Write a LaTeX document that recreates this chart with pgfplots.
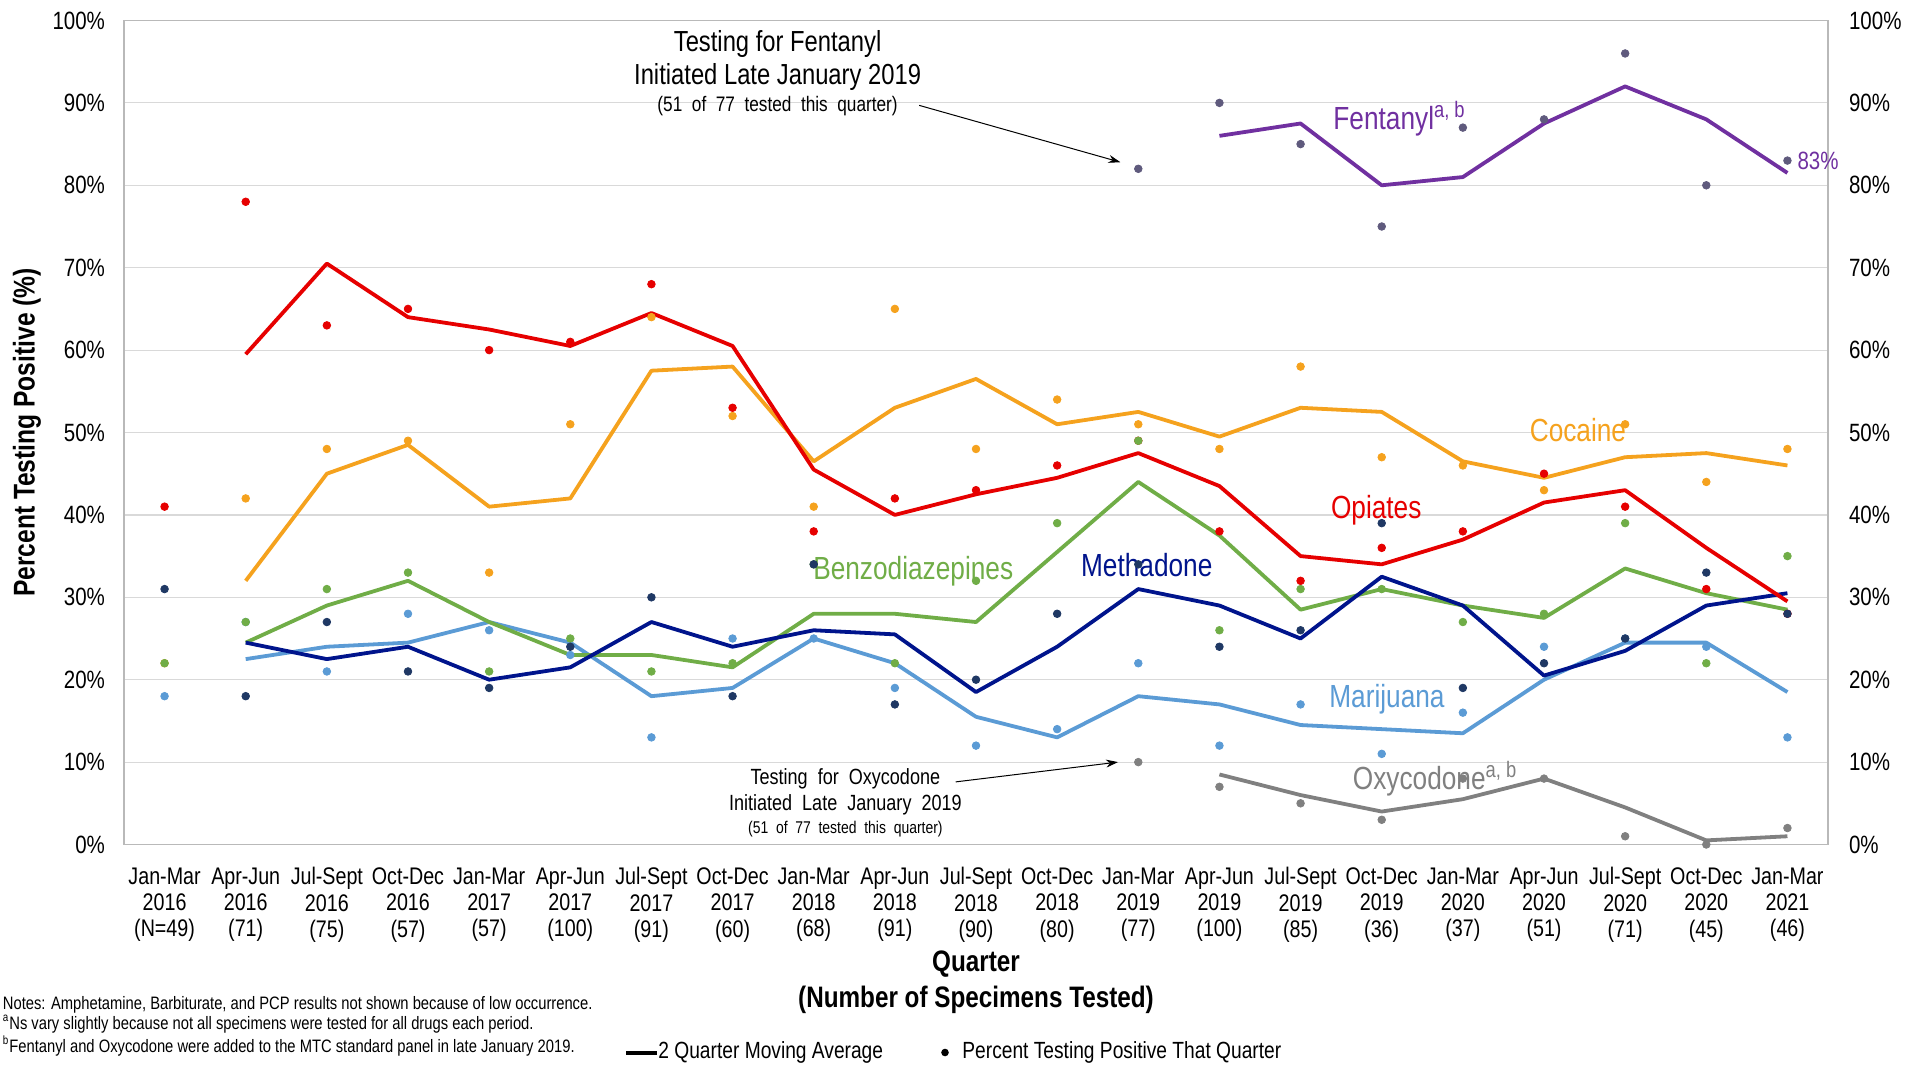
\documentclass[border=0pt]{standalone}
\usepackage{pgfplots}
\pgfplotsset{compat=1.18}
\usepackage{pgfplotstable}
\usepackage{fontspec}
\setmainfont{Liberation Sans}[FakeStretch=0.82]
\usetikzlibrary{arrows.meta}

\definecolor{opired}{RGB}{230,0,0}
\definecolor{cocorange}{RGB}{245,162,30}
\definecolor{bengreen}{RGB}{112,173,71}
\definecolor{metnavy}{RGB}{0,20,140}
\definecolor{metdot}{RGB}{31,56,100}
\definecolor{marblue}{RGB}{91,155,213}
\definecolor{fenpurple}{RGB}{112,48,160}
\definecolor{fendot}{RGB}{95,90,125}
\definecolor{oxygray}{RGB}{128,128,128}

\pgfplotstableread{
q opi coc ben met mar fen oxy
0 41 22 22 31 18 nan nan
1 78 42 27 18 27 nan nan
2 63 48 31 27 21 nan nan
3 65 49 33 21 28 nan nan
4 60 33 21 19 26 nan nan
5 61 51 25 24 23 nan nan
6 68 64 21 30 13 nan nan
7 53 52 22 18 25 nan nan
8 38 41 34 34 25 nan nan
9 42 65 22 17 19 nan nan
10 43 48 32 20 12 nan nan
11 46 54 39 28 14 nan nan
12 49 51 49 34 22 82 10
13 38 48 26 24 12 90 7
14 32 58 31 26 17 85 5
15 36 47 31 39 11 75 3
16 38 46 27 19 16 87 8
17 45 43 28 22 24 88 8
18 41 51 39 25 25 96 1
19 31 44 22 33 24 80 0
20 28 48 35 28 13 83 2
}\tdots

\pgfplotstableread{
q opi coc ben met mar fen oxy
1 59.5 32 24.5 24.5 22.5 nan nan
2 70.5 45 29 22.5 24 nan nan
3 64 48.5 32 24 24.5 nan nan
4 62.5 41 27 20 27 nan nan
5 60.5 42 23 21.5 24.5 nan nan
6 64.5 57.5 23 27 18 nan nan
7 60.5 58 21.5 24 19 nan nan
8 45.5 46.5 28 26 25 nan nan
9 40 53 28 25.5 22 nan nan
10 42.5 56.5 27 18.5 15.5 nan nan
11 44.5 51 35.5 24 13 nan nan
12 47.5 52.5 44 31 18 nan nan
13 43.5 49.5 37.5 29 17 86 8.5
14 35 53 28.5 25 14.5 87.5 6
15 34 52.5 31 32.5 14 80 4
16 37 46.5 29 29 13.5 81 5.5
17 41.5 44.5 27.5 20.5 20 87.5 8
18 43 47 33.5 23.5 24.5 92 4.5
19 36 47.5 30.5 29 24.5 88 0.5
20 29.5 46 28.5 30.5 18.5 81.5 1
}\tma

\begin{document}
\begin{tikzpicture}
\path[use as bounding box] (-62pt,-111pt) rectangle (900.5pt,422.25pt);
\begin{axis}[
  at={(0,0)}, anchor=south west, scale only axis,
  width=852pt, height=412pt,
  xmin=-0.5, xmax=20.5, ymin=0, ymax=100,
  unbounded coords=jump,
  axis line style={draw=gray!55, line width=0.6pt},
  ymajorgrids, grid style={draw=gray!30, line width=0.6pt},
  major tick length=0pt,
  ytick={0,10,...,100},
  yticklabel={\pgfmathprintnumber[assume math mode=true]{\tick}\%},
  yticklabel style={font=\fontsize{12.5}{14}\selectfont, xshift=-6pt},
  xtick={0,...,20},
  xticklabels={{Jan-Mar\\2016\\(N=49)},{Apr-Jun\\2016\\(71)},{Jul-Sept\\2016\\(75)},{Oct-Dec\\2016\\(57)},
    {Jan-Mar\\2017\\(57)},{Apr-Jun\\2017\\(100)},{Jul-Sept\\2017\\(91)},{Oct-Dec\\2017\\(60)},
    {Jan-Mar\\2018\\(68)},{Apr-Jun\\2018\\(91)},{Jul-Sept\\2018\\(90)},{Oct-Dec\\2018\\(80)},
    {Jan-Mar\\2019\\(77)},{Apr-Jun\\2019\\(100)},{Jul-Sept\\2019\\(85)},{Oct-Dec\\2019\\(36)},
    {Jan-Mar\\2020\\(37)},{Apr-Jun\\2020\\(51)},{Jul-Sept\\2020\\(71)},{Oct-Dec\\2020\\(45)},
    {Jan-Mar\\2021\\(46)}},
  xticklabel style={align=center, font=\fontsize{12}{13.2}\selectfont, yshift=-8pt},
  clip=false,
]
% moving average lines
\addplot[draw=cocorange, line width=1.9pt, line join=round, no marks] table[x=q,y=coc]{\tma};
\addplot[draw=marblue, line width=1.9pt, line join=round, no marks] table[x=q,y=mar]{\tma};
\addplot[draw=bengreen, line width=1.9pt, line join=round, no marks] table[x=q,y=ben]{\tma};
\addplot[draw=metnavy, line width=1.9pt, line join=round, no marks] table[x=q,y=met]{\tma};
\addplot[draw=opired, line width=1.9pt, line join=round, no marks] table[x=q,y=opi]{\tma};
\addplot[draw=fenpurple, line width=1.9pt, line join=round, no marks] table[x=q,y=fen]{\tma};
\addplot[draw=oxygray, line width=1.9pt, line join=round, no marks] table[x=q,y=oxy]{\tma};
% quarterly dots
\addplot[only marks, mark=*, color=marblue, mark size=1.9pt] table[x=q,y=mar]{\tdots};
\addplot[only marks, mark=*, color=cocorange, mark size=1.9pt] table[x=q,y=coc]{\tdots};
\addplot[only marks, mark=*, color=opired, mark size=1.9pt] table[x=q,y=opi]{\tdots};
\addplot[only marks, mark=*, color=bengreen, mark size=1.9pt] table[x=q,y=ben]{\tdots};
\addplot[only marks, mark=*, color=metdot, mark size=1.9pt] table[x=q,y=met]{\tdots};
\addplot[only marks, mark=*, color=fendot, mark size=1.9pt] table[x=q,y=fen]{\tdots};
\addplot[only marks, mark=*, color=oxygray, mark size=1.9pt] table[x=q,y=oxy]{\tdots};

% series labels
\node[anchor=west, inner sep=0pt, text=fenpurple, font=\fontsize{16}{18}\selectfont] at (axis cs:14.40,88.1) {Fentanyl\textsuperscript{a, b}};
\node[anchor=west, inner sep=0pt, text=fenpurple, font=\fontsize{12.5}{14}\selectfont] at (axis cs:20.12,83.0) {83\%};
\node[anchor=west, inner sep=0pt, text=cocorange, font=\fontsize{16}{18}\selectfont] at (axis cs:16.82,50.3) {Cocaine};
\node[anchor=west, inner sep=0pt, text=opired, font=\fontsize{16}{18}\selectfont] at (axis cs:14.37,40.6) {Opiates};
\node[anchor=west, inner sep=0pt, text=bengreen, font=\fontsize{16}{18}\selectfont] at (axis cs:7.99,33.2) {Benzodiazepines};
\node[anchor=west, inner sep=0pt, text=metnavy, font=\fontsize{16}{18}\selectfont] at (axis cs:11.29,33.9) {Methadone};
\node[anchor=west, inner sep=0pt, text=marblue, font=\fontsize{16}{18}\selectfont] at (axis cs:14.35,17.6) {Marijuana};
\node[anchor=west, inner sep=0pt, text=oxygray, font=\fontsize{16}{18}\selectfont] at (axis cs:14.64,8.0) {Oxycodone\textsuperscript{a, b}};

% annotations
\node[inner sep=0pt, font=\fontsize{14.5}{16}\selectfont] at (axis cs:7.555,97.1) {Testing for Fentanyl};
\node[inner sep=0pt, font=\fontsize{14.5}{16}\selectfont] at (axis cs:7.555,93.1) {Initiated Late January 2019};
\node[inner sep=0pt, font=\fontsize{10.5}{12}\selectfont] at (axis cs:7.555,89.6) {(51\ \ of\ \ 77\ \ tested\ \ this\ \ quarter)};
\draw[-{Stealth[length=6pt,width=4pt]}, line width=0.5pt] (axis cs:9.30,89.7) -- (axis cs:11.78,82.8);

\node[inner sep=0pt, font=\fontsize{11}{12}\selectfont] at (axis cs:8.39,8.0) {Testing\ \ for\ \ Oxycodone};
\node[inner sep=0pt, font=\fontsize{11}{12}\selectfont] at (axis cs:8.39,4.8) {Initiated\ \ Late\ \ January\ \ 2019};
\node[inner sep=0pt, font=\fontsize{8.5}{9}\selectfont] at (axis cs:8.39,1.9) {(51\ \ of\ \ 77\ \ tested\ \ this\ \ quarter)};
\draw[-{Stealth[length=6pt,width=4pt]}, line width=0.5pt] (axis cs:9.75,7.6) -- (axis cs:11.75,10.0);
\end{axis}

\begin{axis}[
  at={(0,0)}, anchor=south west, scale only axis,
  width=852pt, height=412pt,
  xmin=-0.5, xmax=20.5, ymin=0, ymax=100,
  axis x line=none, axis y line*=right,
  y axis line style={draw=none},
  major tick length=0pt,
  ytick={0,10,...,100},
  yticklabel={\pgfmathprintnumber[assume math mode=true]{\tick}\%},
  yticklabel style={font=\fontsize{12.5}{14}\selectfont, xshift=7pt},
]
\addplot[draw=none, forget plot] coordinates {(0,0)};
\end{axis}

% axis titles
\node[rotate=90, font=\bfseries\fontsize{15}{17}\selectfont] at (-48.5pt,206pt) {Percent Testing Positive (\%)};
\node[font=\bfseries\fontsize{14.8}{16}\selectfont] at (426pt,-60pt) {Quarter};
\node[font=\bfseries\fontsize{14.8}{16}\selectfont] at (426pt,-77.7pt) {(Number of Specimens Tested)};

% notes
\node[anchor=west, inner sep=0pt, font=\fontsize{9}{10}\selectfont] at (-60.75pt,-80pt) {Notes: Amphetamine, Barbiturate, and PCP results not shown because of low occurrence.};
\node[anchor=west, inner sep=0pt, font=\fontsize{9}{10}\selectfont] at (-60.75pt,-89.8pt) {\textsuperscript{a}Ns vary slightly because not all specimens were tested for all drugs each period.};
\node[anchor=west, inner sep=0pt, font=\fontsize{9}{10}\selectfont] at (-60.75pt,-100.8pt) {\textsuperscript{b}Fentanyl and Oxycodone were added to the MTC standard panel in late January 2019.};

% legend
\draw[line width=2pt] (251pt,-104pt) -- (266.5pt,-104pt);
\node[anchor=west, inner sep=0pt, font=\fontsize{11.7}{13}\selectfont] at (267pt,-104pt) {2 Quarter Moving Average};
\fill (410.5pt,-104pt) circle (1.9pt);
\node[anchor=west, inner sep=0pt, font=\fontsize{11.7}{13}\selectfont] at (419pt,-104pt) {Percent Testing Positive That Quarter};
\end{tikzpicture}
\end{document}
